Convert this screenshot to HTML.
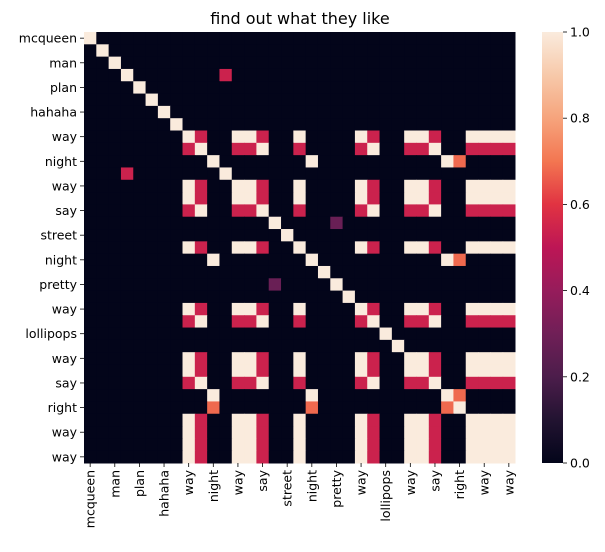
<!DOCTYPE html>
<html><head><meta charset="utf-8"><style>
body{margin:0;background:#fff;font-family:"Liberation Sans","DejaVu Sans",sans-serif;}
svg text{font-family:"DejaVu Sans","Liberation Sans",sans-serif;fill:#000}
</style></head><body>
<svg id="c" width="605" height="547" xmlns="http://www.w3.org/2000/svg">
<rect width="605" height="547" fill="#fff"/>
<text x="300" y="24" font-size="16" text-anchor="middle">find out what they like</text>
<defs><linearGradient id="g" x1="0" y1="1" x2="0" y2="0">
<stop offset="0" stop-color="#03051a"/><stop offset="0.1" stop-color="#221331"/><stop offset="0.2" stop-color="#4c1d4b"/><stop offset="0.3" stop-color="#701f57"/><stop offset="0.4" stop-color="#961c5b"/><stop offset="0.5" stop-color="#bd1655"/><stop offset="0.6" stop-color="#e13342"/><stop offset="0.7" stop-color="#f37651"/><stop offset="0.8" stop-color="#f6a47c"/><stop offset="0.9" stop-color="#f7c9aa"/><stop offset="1" stop-color="#faebdd"/>
</linearGradient></defs>
<g id="cells"></g>
<g id="axes"></g>
<rect x="542" y="32" width="21" height="431" fill="url(#g)"/>
<g id="cbar"></g>
</svg>
<script>
const labels = ["mcqueen","","man","","plan","","hahaha","","way","","night","","way","","say","","street","","night","","pretty","","way","","lollipops","","way","","say","","right","","way","","way"];
const cbarTicks = [0,0.2,0.4,0.6,0.8,1.0];
const cbarTickLabels = ["0.0","0.2","0.4","0.6","0.8","1.0"];
const z = [
[1,0,0,0,0, 0,0,0,0,0, 0,0,0,0,0, 0,0,0,0,0, 0,0,0,0,0, 0,0,0,0,0, 0,0,0,0,0],
[0,1,0,0,0, 0,0,0,0,0, 0,0,0,0,0, 0,0,0,0,0, 0,0,0,0,0, 0,0,0,0,0, 0,0,0,0,0],
[0,0,1,0,0, 0,0,0,0,0, 0,0,0,0,0, 0,0,0,0,0, 0,0,0,0,0, 0,0,0,0,0, 0,0,0,0,0],
[0,0,0,1,0, 0,0,0,0,0, 0,.54,0,0,0, 0,0,0,0,0, 0,0,0,0,0, 0,0,0,0,0, 0,0,0,0,0],
[0,0,0,0,1, 0,0,0,0,0, 0,0,0,0,0, 0,0,0,0,0, 0,0,0,0,0, 0,0,0,0,0, 0,0,0,0,0],
[0,0,0,0,0, 1,0,0,0,0, 0,0,0,0,0, 0,0,0,0,0, 0,0,0,0,0, 0,0,0,0,0, 0,0,0,0,0],
[0,0,0,0,0, 0,1,0,0,0, 0,0,0,0,0, 0,0,0,0,0, 0,0,0,0,0, 0,0,0,0,0, 0,0,0,0,0],
[0,0,0,0,0, 0,0,1,0,0, 0,0,0,0,0, 0,0,0,0,0, 0,0,0,0,0, 0,0,0,0,0, 0,0,0,0,0],
[0,0,0,0,0, 0,0,0,1,.54, 0,0,1,1,.54, 0,0,1,0,0, 0,0,1,.54,0, 0,1,1,.54,0, 0,1,1,1,1],
[0,0,0,0,0, 0,0,0,.54,1, 0,0,.54,.54,1, 0,0,.54,0,0, 0,0,.54,1,0, 0,.54,.54,1,0, 0,.54,.54,.54,.54],
[0,0,0,0,0, 0,0,0,0,0, 1,0,0,0,0, 0,0,0,1,0, 0,0,0,0,0, 0,0,0,0,1, .68,0,0,0,0],
[0,0,0,.54,0, 0,0,0,0,0, 0,1,0,0,0, 0,0,0,0,0, 0,0,0,0,0, 0,0,0,0,0, 0,0,0,0,0],
[0,0,0,0,0, 0,0,0,1,.54, 0,0,1,1,.54, 0,0,1,0,0, 0,0,1,.54,0, 0,1,1,.54,0, 0,1,1,1,1],
[0,0,0,0,0, 0,0,0,1,.54, 0,0,1,1,.54, 0,0,1,0,0, 0,0,1,.54,0, 0,1,1,.54,0, 0,1,1,1,1],
[0,0,0,0,0, 0,0,0,.54,1, 0,0,.54,.54,1, 0,0,.54,0,0, 0,0,.54,1,0, 0,.54,.54,1,0, 0,.54,.54,.54,.54],
[0,0,0,0,0, 0,0,0,0,0, 0,0,0,0,0, 1,0,0,0,0, .28,0,0,0,0, 0,0,0,0,0, 0,0,0,0,0],
[0,0,0,0,0, 0,0,0,0,0, 0,0,0,0,0, 0,1,0,0,0, 0,0,0,0,0, 0,0,0,0,0, 0,0,0,0,0],
[0,0,0,0,0, 0,0,0,1,.54, 0,0,1,1,.54, 0,0,1,0,0, 0,0,1,.54,0, 0,1,1,.54,0, 0,1,1,1,1],
[0,0,0,0,0, 0,0,0,0,0, 1,0,0,0,0, 0,0,0,1,0, 0,0,0,0,0, 0,0,0,0,1, .68,0,0,0,0],
[0,0,0,0,0, 0,0,0,0,0, 0,0,0,0,0, 0,0,0,0,1, 0,0,0,0,0, 0,0,0,0,0, 0,0,0,0,0],
[0,0,0,0,0, 0,0,0,0,0, 0,0,0,0,0, .28,0,0,0,0, 1,0,0,0,0, 0,0,0,0,0, 0,0,0,0,0],
[0,0,0,0,0, 0,0,0,0,0, 0,0,0,0,0, 0,0,0,0,0, 0,1,0,0,0, 0,0,0,0,0, 0,0,0,0,0],
[0,0,0,0,0, 0,0,0,1,.54, 0,0,1,1,.54, 0,0,1,0,0, 0,0,1,.54,0, 0,1,1,.54,0, 0,1,1,1,1],
[0,0,0,0,0, 0,0,0,.54,1, 0,0,.54,.54,1, 0,0,.54,0,0, 0,0,.54,1,0, 0,.54,.54,1,0, 0,.54,.54,.54,.54],
[0,0,0,0,0, 0,0,0,0,0, 0,0,0,0,0, 0,0,0,0,0, 0,0,0,0,1, 0,0,0,0,0, 0,0,0,0,0],
[0,0,0,0,0, 0,0,0,0,0, 0,0,0,0,0, 0,0,0,0,0, 0,0,0,0,0, 1,0,0,0,0, 0,0,0,0,0],
[0,0,0,0,0, 0,0,0,1,.54, 0,0,1,1,.54, 0,0,1,0,0, 0,0,1,.54,0, 0,1,1,.54,0, 0,1,1,1,1],
[0,0,0,0,0, 0,0,0,1,.54, 0,0,1,1,.54, 0,0,1,0,0, 0,0,1,.54,0, 0,1,1,.54,0, 0,1,1,1,1],
[0,0,0,0,0, 0,0,0,.54,1, 0,0,.54,.54,1, 0,0,.54,0,0, 0,0,.54,1,0, 0,.54,.54,1,0, 0,.54,.54,.54,.54],
[0,0,0,0,0, 0,0,0,0,0, 1,0,0,0,0, 0,0,0,1,0, 0,0,0,0,0, 0,0,0,0,1, .68,0,0,0,0],
[0,0,0,0,0, 0,0,0,0,0, .68,0,0,0,0, 0,0,0,.68,0, 0,0,0,0,0, 0,0,0,0,.68, 1,0,0,0,0],
[0,0,0,0,0, 0,0,0,1,.54, 0,0,1,1,.54, 0,0,1,0,0, 0,0,1,.54,0, 0,1,1,.54,0, 0,1,1,1,1],
[0,0,0,0,0, 0,0,0,1,.54, 0,0,1,1,.54, 0,0,1,0,0, 0,0,1,.54,0, 0,1,1,.54,0, 0,1,1,1,1],
[0,0,0,0,0, 0,0,0,1,.54, 0,0,1,1,.54, 0,0,1,0,0, 0,0,1,.54,0, 0,1,1,.54,0, 0,1,1,1,1],
[0,0,0,0,0, 0,0,0,1,.54, 0,0,1,1,.54, 0,0,1,0,0, 0,0,1,.54,0, 0,1,1,.54,0, 0,1,1,1,1]
];
const NS="http://www.w3.org/2000/svg";
const X0=84,X1=515,Y0=32,Y1=463,N=z.length;
const cw=(X1-X0)/N, ch=(Y1-Y0)/N;
const xs=i=>X0+i*cw, ys=j=>Y0+j*ch;
const stops=[[3,5,26],[34,19,49],[76,29,75],[112,31,87],[150,28,91],[189,22,85],[225,51,66],[243,118,81],[246,164,124],[247,201,170],[250,235,221]];
function cmap(v){v=Math.max(0,Math.min(1,v));const t=v*10,i=Math.min(9,Math.floor(t)),f=t-i;const a=stops[i],b=stops[i+1];return `rgb(${a.map((c,k)=>Math.round(c+(b[k]-c)*f)).join(',')})`;}
function mk(tag,attrs,parent){const e=document.createElementNS(NS,tag);for(const k in attrs)e.setAttribute(k,attrs[k]);parent.appendChild(e);return e;}
const cells=document.getElementById('cells'),axes=document.getElementById('axes'),cbar=document.getElementById('cbar');
for(let j=0;j<N;j++)for(let i=0;i<N;i++){
 const r=mk('rect',{x:xs(i),y:ys(j),width:cw+0.5,height:ch+0.5,fill:cmap(z[j][i])},cells);
 
 
}
labels.forEach((l,k)=>{
 if(!l)return;
 const cy=ys(k+0.5),cx=xs(k+0.5);
 mk('line',{x1:X0-4,y1:cy,x2:X0,y2:cy,stroke:'#000','stroke-width':0.8},axes);
 const t=mk('text',{x:X0-7,y:cy+4.5,'font-size':12.5,'text-anchor':'end'},axes);
 t.textContent=l;
 
 
 mk('line',{x1:cx,y1:Y1,x2:cx,y2:Y1+4,stroke:'#000','stroke-width':0.8},axes);
 const u=mk('text',{x:0,y:0,'font-size':12.5,'text-anchor':'end',transform:`translate(${cx+4.5},${Y1+7}) rotate(-90)`},axes);
 u.textContent=l;
 
 
});
cbarTicks.forEach((v,k)=>{
 const y=Y1-v*(Y1-Y0);
 mk('line',{x1:563,y1:y,x2:567,y2:y,stroke:'#000','stroke-width':0.8},cbar);
 const t=mk('text',{x:570,y:y+4.5,'font-size':12.5},cbar);
 t.textContent=cbarTickLabels[k];
 
 
});
</script>
</body></html>
